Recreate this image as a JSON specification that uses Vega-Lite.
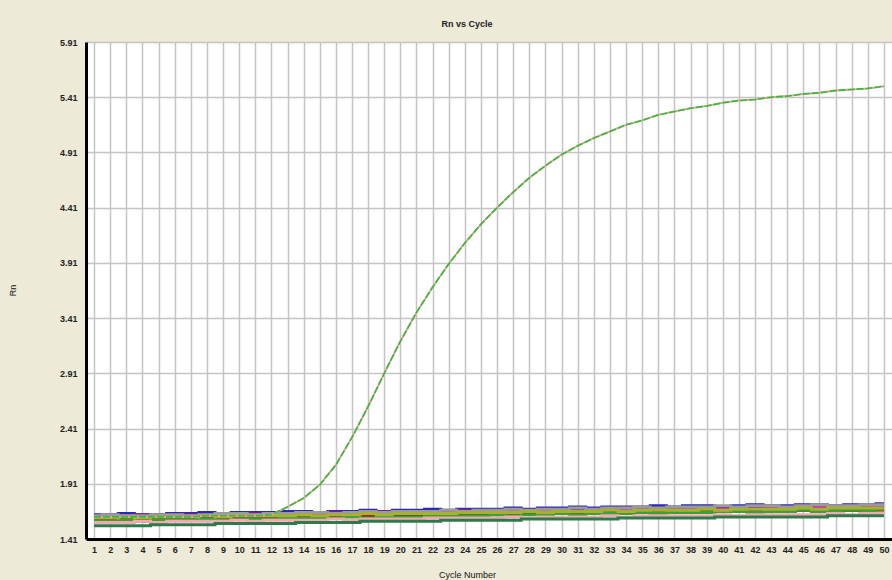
{
  "$schema": "https://vega.github.io/schema/vega-lite/v6.json",
  "width": 806,
  "height": 497,
  "autosize": {"type": "none"},
  "padding": {"left": 86, "top": 42, "right": 0, "bottom": 41},
  "background": "#EEEAD8",
  "config": {
    "view": {"stroke": null, "fill": "white"},
    "font": "Liberation Sans"
  },
  "title": {"text": "Rn vs Cycle", "fontSize": 9, "fontWeight": "bold", "color": "#222", "offset": 9, "dx": -22, "font": "Liberation Sans"},
  "datasets": {
    "amp": [
      {"c":1,"v":1.61},{"c":2,"v":1.61},{"c":3,"v":1.61},{"c":4,"v":1.61},{"c":5,"v":1.61},{"c":6,"v":1.61},{"c":7,"v":1.61},{"c":8,"v":1.62},{"c":9,"v":1.62},{"c":10,"v":1.62},
      {"c":11,"v":1.62},{"c":12,"v":1.63},{"c":13,"v":1.70},{"c":14,"v":1.78},{"c":15,"v":1.90},{"c":16,"v":2.08},{"c":17,"v":2.33},{"c":18,"v":2.61},{"c":19,"v":2.91},{"c":20,"v":3.20},
      {"c":21,"v":3.46},{"c":22,"v":3.69},{"c":23,"v":3.90},{"c":24,"v":4.09},{"c":25,"v":4.26},{"c":26,"v":4.41},{"c":27,"v":4.55},{"c":28,"v":4.68},{"c":29,"v":4.79},{"c":30,"v":4.89},
      {"c":31,"v":4.97},{"c":32,"v":5.04},{"c":33,"v":5.10},{"c":34,"v":5.16},{"c":35,"v":5.20},{"c":36,"v":5.25},{"c":37,"v":5.28},{"c":38,"v":5.31},{"c":39,"v":5.33},{"c":40,"v":5.36},
      {"c":41,"v":5.38},{"c":42,"v":5.39},{"c":43,"v":5.41},{"c":44,"v":5.42},{"c":45,"v":5.44},{"c":46,"v":5.45},{"c":47,"v":5.47},{"c":48,"v":5.48},{"c":49,"v":5.49},{"c":50,"v":5.51}
    ],
    "base": [
      {"s":"A","c":1,"v":1.63},{"s":"A","c":2,"v":1.63},{"s":"A","c":3,"v":1.64},{"s":"A","c":4,"v":1.63},{"s":"A","c":5,"v":1.63},{"s":"A","c":6,"v":1.64},{"s":"A","c":7,"v":1.64},{"s":"A","c":8,"v":1.65},{"s":"A","c":9,"v":1.64},{"s":"A","c":10,"v":1.65},
      {"s":"A","c":11,"v":1.65},{"s":"A","c":12,"v":1.65},{"s":"A","c":13,"v":1.66},{"s":"A","c":14,"v":1.66},{"s":"A","c":15,"v":1.65},{"s":"A","c":16,"v":1.66},{"s":"A","c":17,"v":1.66},{"s":"A","c":18,"v":1.67},{"s":"A","c":19,"v":1.66},{"s":"A","c":20,"v":1.67},
      {"s":"A","c":21,"v":1.67},{"s":"A","c":22,"v":1.68},{"s":"A","c":23,"v":1.67},{"s":"A","c":24,"v":1.68},{"s":"A","c":25,"v":1.68},{"s":"A","c":26,"v":1.68},{"s":"A","c":27,"v":1.69},{"s":"A","c":28,"v":1.68},{"s":"A","c":29,"v":1.69},{"s":"A","c":30,"v":1.69},
      {"s":"A","c":31,"v":1.70},{"s":"A","c":32,"v":1.69},{"s":"A","c":33,"v":1.70},{"s":"A","c":34,"v":1.70},{"s":"A","c":35,"v":1.70},{"s":"A","c":36,"v":1.71},{"s":"A","c":37,"v":1.70},{"s":"A","c":38,"v":1.71},{"s":"A","c":39,"v":1.71},{"s":"A","c":40,"v":1.70},
      {"s":"A","c":41,"v":1.71},{"s":"A","c":42,"v":1.72},{"s":"A","c":43,"v":1.71},{"s":"A","c":44,"v":1.71},{"s":"A","c":45,"v":1.72},{"s":"A","c":46,"v":1.72},{"s":"A","c":47,"v":1.71},{"s":"A","c":48,"v":1.72},{"s":"A","c":49,"v":1.72},{"s":"A","c":50,"v":1.73},

      {"s":"B","c":1,"v":1.62},{"s":"B","c":2,"v":1.62},{"s":"B","c":3,"v":1.62},{"s":"B","c":4,"v":1.63},{"s":"B","c":5,"v":1.62},{"s":"B","c":6,"v":1.63},{"s":"B","c":7,"v":1.63},{"s":"B","c":8,"v":1.63},{"s":"B","c":9,"v":1.64},{"s":"B","c":10,"v":1.63},
      {"s":"B","c":11,"v":1.64},{"s":"B","c":12,"v":1.64},{"s":"B","c":13,"v":1.64},{"s":"B","c":14,"v":1.65},{"s":"B","c":15,"v":1.64},{"s":"B","c":16,"v":1.65},{"s":"B","c":17,"v":1.65},{"s":"B","c":18,"v":1.65},{"s":"B","c":19,"v":1.66},{"s":"B","c":20,"v":1.65},
      {"s":"B","c":21,"v":1.66},{"s":"B","c":22,"v":1.66},{"s":"B","c":23,"v":1.66},{"s":"B","c":24,"v":1.67},{"s":"B","c":25,"v":1.66},{"s":"B","c":26,"v":1.67},{"s":"B","c":27,"v":1.67},{"s":"B","c":28,"v":1.67},{"s":"B","c":29,"v":1.68},{"s":"B","c":30,"v":1.67},
      {"s":"B","c":31,"v":1.68},{"s":"B","c":32,"v":1.68},{"s":"B","c":33,"v":1.68},{"s":"B","c":34,"v":1.69},{"s":"B","c":35,"v":1.68},{"s":"B","c":36,"v":1.69},{"s":"B","c":37,"v":1.69},{"s":"B","c":38,"v":1.69},{"s":"B","c":39,"v":1.69},{"s":"B","c":40,"v":1.70},
      {"s":"B","c":41,"v":1.69},{"s":"B","c":42,"v":1.70},{"s":"B","c":43,"v":1.70},{"s":"B","c":44,"v":1.70},{"s":"B","c":45,"v":1.71},{"s":"B","c":46,"v":1.70},{"s":"B","c":47,"v":1.70},{"s":"B","c":48,"v":1.71},{"s":"B","c":49,"v":1.70},{"s":"B","c":50,"v":1.71},

      {"s":"C","c":1,"v":1.61},{"s":"C","c":2,"v":1.61},{"s":"C","c":3,"v":1.62},{"s":"C","c":4,"v":1.61},{"s":"C","c":5,"v":1.61},{"s":"C","c":6,"v":1.62},{"s":"C","c":7,"v":1.62},{"s":"C","c":8,"v":1.61},{"s":"C","c":9,"v":1.62},{"s":"C","c":10,"v":1.62},
      {"s":"C","c":11,"v":1.63},{"s":"C","c":12,"v":1.62},{"s":"C","c":13,"v":1.63},{"s":"C","c":14,"v":1.63},{"s":"C","c":15,"v":1.63},{"s":"C","c":16,"v":1.64},{"s":"C","c":17,"v":1.63},{"s":"C","c":18,"v":1.64},{"s":"C","c":19,"v":1.64},{"s":"C","c":20,"v":1.64},
      {"s":"C","c":21,"v":1.65},{"s":"C","c":22,"v":1.64},{"s":"C","c":23,"v":1.65},{"s":"C","c":24,"v":1.65},{"s":"C","c":25,"v":1.66},{"s":"C","c":26,"v":1.65},{"s":"C","c":27,"v":1.66},{"s":"C","c":28,"v":1.66},{"s":"C","c":29,"v":1.66},{"s":"C","c":30,"v":1.67},
      {"s":"C","c":31,"v":1.66},{"s":"C","c":32,"v":1.67},{"s":"C","c":33,"v":1.67},{"s":"C","c":34,"v":1.67},{"s":"C","c":35,"v":1.68},{"s":"C","c":36,"v":1.67},{"s":"C","c":37,"v":1.68},{"s":"C","c":38,"v":1.68},{"s":"C","c":39,"v":1.68},{"s":"C","c":40,"v":1.68},
      {"s":"C","c":41,"v":1.69},{"s":"C","c":42,"v":1.68},{"s":"C","c":43,"v":1.69},{"s":"C","c":44,"v":1.69},{"s":"C","c":45,"v":1.69},{"s":"C","c":46,"v":1.70},{"s":"C","c":47,"v":1.69},{"s":"C","c":48,"v":1.69},{"s":"C","c":49,"v":1.70},{"s":"C","c":50,"v":1.70},

      {"s":"D","c":1,"v":1.62},{"s":"D","c":2,"v":1.63},{"s":"D","c":3,"v":1.62},{"s":"D","c":4,"v":1.62},{"s":"D","c":5,"v":1.63},{"s":"D","c":6,"v":1.63},{"s":"D","c":7,"v":1.62},{"s":"D","c":8,"v":1.63},{"s":"D","c":9,"v":1.64},{"s":"D","c":10,"v":1.64},
      {"s":"D","c":11,"v":1.63},{"s":"D","c":12,"v":1.64},{"s":"D","c":13,"v":1.64},{"s":"D","c":14,"v":1.65},{"s":"D","c":15,"v":1.65},{"s":"D","c":16,"v":1.64},{"s":"D","c":17,"v":1.65},{"s":"D","c":18,"v":1.66},{"s":"D","c":19,"v":1.65},{"s":"D","c":20,"v":1.66},
      {"s":"D","c":21,"v":1.66},{"s":"D","c":22,"v":1.66},{"s":"D","c":23,"v":1.67},{"s":"D","c":24,"v":1.66},{"s":"D","c":25,"v":1.67},{"s":"D","c":26,"v":1.67},{"s":"D","c":27,"v":1.68},{"s":"D","c":28,"v":1.67},{"s":"D","c":29,"v":1.68},{"s":"D","c":30,"v":1.68},
      {"s":"D","c":31,"v":1.69},{"s":"D","c":32,"v":1.68},{"s":"D","c":33,"v":1.69},{"s":"D","c":34,"v":1.69},{"s":"D","c":35,"v":1.70},{"s":"D","c":36,"v":1.69},{"s":"D","c":37,"v":1.70},{"s":"D","c":38,"v":1.70},{"s":"D","c":39,"v":1.70},{"s":"D","c":40,"v":1.71},
      {"s":"D","c":41,"v":1.70},{"s":"D","c":42,"v":1.71},{"s":"D","c":43,"v":1.71},{"s":"D","c":44,"v":1.70},{"s":"D","c":45,"v":1.71},{"s":"D","c":46,"v":1.72},{"s":"D","c":47,"v":1.71},{"s":"D","c":48,"v":1.71},{"s":"D","c":49,"v":1.72},{"s":"D","c":50,"v":1.72},

      {"s":"E","c":1,"v":1.59},{"s":"E","c":2,"v":1.59},{"s":"E","c":3,"v":1.59},{"s":"E","c":4,"v":1.60},{"s":"E","c":5,"v":1.59},{"s":"E","c":6,"v":1.60},{"s":"E","c":7,"v":1.60},{"s":"E","c":8,"v":1.60},{"s":"E","c":9,"v":1.60},{"s":"E","c":10,"v":1.61},
      {"s":"E","c":11,"v":1.60},{"s":"E","c":12,"v":1.61},{"s":"E","c":13,"v":1.61},{"s":"E","c":14,"v":1.61},{"s":"E","c":15,"v":1.62},{"s":"E","c":16,"v":1.61},{"s":"E","c":17,"v":1.62},{"s":"E","c":18,"v":1.62},{"s":"E","c":19,"v":1.62},{"s":"E","c":20,"v":1.62},
      {"s":"E","c":21,"v":1.63},{"s":"E","c":22,"v":1.62},{"s":"E","c":23,"v":1.63},{"s":"E","c":24,"v":1.63},{"s":"E","c":25,"v":1.63},{"s":"E","c":26,"v":1.64},{"s":"E","c":27,"v":1.63},{"s":"E","c":28,"v":1.64},{"s":"E","c":29,"v":1.64},{"s":"E","c":30,"v":1.64},
      {"s":"E","c":31,"v":1.64},{"s":"E","c":32,"v":1.65},{"s":"E","c":33,"v":1.64},{"s":"E","c":34,"v":1.65},{"s":"E","c":35,"v":1.65},{"s":"E","c":36,"v":1.65},{"s":"E","c":37,"v":1.65},{"s":"E","c":38,"v":1.66},{"s":"E","c":39,"v":1.65},{"s":"E","c":40,"v":1.66},
      {"s":"E","c":41,"v":1.66},{"s":"E","c":42,"v":1.66},{"s":"E","c":43,"v":1.66},{"s":"E","c":44,"v":1.66},{"s":"E","c":45,"v":1.67},{"s":"E","c":46,"v":1.66},{"s":"E","c":47,"v":1.67},{"s":"E","c":48,"v":1.67},{"s":"E","c":49,"v":1.67},{"s":"E","c":50,"v":1.67},

      {"s":"F","c":1,"v":1.58},{"s":"F","c":2,"v":1.58},{"s":"F","c":3,"v":1.59},{"s":"F","c":4,"v":1.58},{"s":"F","c":5,"v":1.59},{"s":"F","c":6,"v":1.59},{"s":"F","c":7,"v":1.59},{"s":"F","c":8,"v":1.60},{"s":"F","c":9,"v":1.59},{"s":"F","c":10,"v":1.60},
      {"s":"F","c":11,"v":1.60},{"s":"F","c":12,"v":1.60},{"s":"F","c":13,"v":1.61},{"s":"F","c":14,"v":1.60},{"s":"F","c":15,"v":1.61},{"s":"F","c":16,"v":1.61},{"s":"F","c":17,"v":1.62},{"s":"F","c":18,"v":1.61},{"s":"F","c":19,"v":1.62},{"s":"F","c":20,"v":1.62},
      {"s":"F","c":21,"v":1.62},{"s":"F","c":22,"v":1.63},{"s":"F","c":23,"v":1.62},{"s":"F","c":24,"v":1.63},{"s":"F","c":25,"v":1.63},{"s":"F","c":26,"v":1.63},{"s":"F","c":27,"v":1.64},{"s":"F","c":28,"v":1.64},{"s":"F","c":29,"v":1.63},{"s":"F","c":30,"v":1.64},
      {"s":"F","c":31,"v":1.64},{"s":"F","c":32,"v":1.65},{"s":"F","c":33,"v":1.65},{"s":"F","c":34,"v":1.64},{"s":"F","c":35,"v":1.65},{"s":"F","c":36,"v":1.66},{"s":"F","c":37,"v":1.65},{"s":"F","c":38,"v":1.66},{"s":"F","c":39,"v":1.66},{"s":"F","c":40,"v":1.66},
      {"s":"F","c":41,"v":1.66},{"s":"F","c":42,"v":1.67},{"s":"F","c":43,"v":1.66},{"s":"F","c":44,"v":1.67},{"s":"F","c":45,"v":1.67},{"s":"F","c":46,"v":1.67},{"s":"F","c":47,"v":1.68},{"s":"F","c":48,"v":1.67},{"s":"F","c":49,"v":1.68},{"s":"F","c":50,"v":1.68},

      {"s":"G","c":1,"v":1.57},{"s":"G","c":2,"v":1.57},{"s":"G","c":3,"v":1.58},{"s":"G","c":4,"v":1.57},{"s":"G","c":5,"v":1.58},{"s":"G","c":6,"v":1.58},{"s":"G","c":7,"v":1.58},{"s":"G","c":8,"v":1.59},{"s":"G","c":9,"v":1.58},{"s":"G","c":10,"v":1.59},
      {"s":"G","c":11,"v":1.59},{"s":"G","c":12,"v":1.59},{"s":"G","c":13,"v":1.60},{"s":"G","c":14,"v":1.60},{"s":"G","c":15,"v":1.60},{"s":"G","c":16,"v":1.60},{"s":"G","c":17,"v":1.61},{"s":"G","c":18,"v":1.60},{"s":"G","c":19,"v":1.61},{"s":"G","c":20,"v":1.61},
      {"s":"G","c":21,"v":1.61},{"s":"G","c":22,"v":1.62},{"s":"G","c":23,"v":1.62},{"s":"G","c":24,"v":1.62},{"s":"G","c":25,"v":1.62},{"s":"G","c":26,"v":1.63},{"s":"G","c":27,"v":1.62},{"s":"G","c":28,"v":1.63},{"s":"G","c":29,"v":1.63},{"s":"G","c":30,"v":1.64},
      {"s":"G","c":31,"v":1.63},{"s":"G","c":32,"v":1.64},{"s":"G","c":33,"v":1.64},{"s":"G","c":34,"v":1.64},{"s":"G","c":35,"v":1.65},{"s":"G","c":36,"v":1.64},{"s":"G","c":37,"v":1.65},{"s":"G","c":38,"v":1.65},{"s":"G","c":39,"v":1.65},{"s":"G","c":40,"v":1.66},
      {"s":"G","c":41,"v":1.66},{"s":"G","c":42,"v":1.65},{"s":"G","c":43,"v":1.66},{"s":"G","c":44,"v":1.66},{"s":"G","c":45,"v":1.67},{"s":"G","c":46,"v":1.66},{"s":"G","c":47,"v":1.67},{"s":"G","c":48,"v":1.67},{"s":"G","c":49,"v":1.67},{"s":"G","c":50,"v":1.68},

      {"s":"H","c":1,"v":1.56},{"s":"H","c":2,"v":1.56},{"s":"H","c":3,"v":1.56},{"s":"H","c":4,"v":1.57},{"s":"H","c":5,"v":1.56},{"s":"H","c":6,"v":1.57},{"s":"H","c":7,"v":1.57},{"s":"H","c":8,"v":1.57},{"s":"H","c":9,"v":1.57},{"s":"H","c":10,"v":1.58},
      {"s":"H","c":11,"v":1.57},{"s":"H","c":12,"v":1.58},{"s":"H","c":13,"v":1.58},{"s":"H","c":14,"v":1.58},{"s":"H","c":15,"v":1.58},{"s":"H","c":16,"v":1.59},{"s":"H","c":17,"v":1.58},{"s":"H","c":18,"v":1.59},{"s":"H","c":19,"v":1.59},{"s":"H","c":20,"v":1.59},
      {"s":"H","c":21,"v":1.59},{"s":"H","c":22,"v":1.60},{"s":"H","c":23,"v":1.60},{"s":"H","c":24,"v":1.60},{"s":"H","c":25,"v":1.60},{"s":"H","c":26,"v":1.60},{"s":"H","c":27,"v":1.61},{"s":"H","c":28,"v":1.60},{"s":"H","c":29,"v":1.61},{"s":"H","c":30,"v":1.61},
      {"s":"H","c":31,"v":1.61},{"s":"H","c":32,"v":1.61},{"s":"H","c":33,"v":1.62},{"s":"H","c":34,"v":1.61},{"s":"H","c":35,"v":1.62},{"s":"H","c":36,"v":1.62},{"s":"H","c":37,"v":1.62},{"s":"H","c":38,"v":1.62},{"s":"H","c":39,"v":1.62},{"s":"H","c":40,"v":1.63},
      {"s":"H","c":41,"v":1.62},{"s":"H","c":42,"v":1.63},{"s":"H","c":43,"v":1.63},{"s":"H","c":44,"v":1.63},{"s":"H","c":45,"v":1.63},{"s":"H","c":46,"v":1.63},{"s":"H","c":47,"v":1.64},{"s":"H","c":48,"v":1.63},{"s":"H","c":49,"v":1.64},{"s":"H","c":50,"v":1.64},

      {"s":"I","c":1,"v":1.53},{"s":"I","c":2,"v":1.53},{"s":"I","c":3,"v":1.53},{"s":"I","c":4,"v":1.53},{"s":"I","c":5,"v":1.54},{"s":"I","c":6,"v":1.54},{"s":"I","c":7,"v":1.54},{"s":"I","c":8,"v":1.54},{"s":"I","c":9,"v":1.55},{"s":"I","c":10,"v":1.55},
      {"s":"I","c":11,"v":1.55},{"s":"I","c":12,"v":1.55},{"s":"I","c":13,"v":1.55},{"s":"I","c":14,"v":1.56},{"s":"I","c":15,"v":1.56},{"s":"I","c":16,"v":1.56},{"s":"I","c":17,"v":1.56},{"s":"I","c":18,"v":1.57},{"s":"I","c":19,"v":1.57},{"s":"I","c":20,"v":1.57},
      {"s":"I","c":21,"v":1.57},{"s":"I","c":22,"v":1.57},{"s":"I","c":23,"v":1.58},{"s":"I","c":24,"v":1.58},{"s":"I","c":25,"v":1.58},{"s":"I","c":26,"v":1.58},{"s":"I","c":27,"v":1.58},{"s":"I","c":28,"v":1.59},{"s":"I","c":29,"v":1.59},{"s":"I","c":30,"v":1.59},
      {"s":"I","c":31,"v":1.59},{"s":"I","c":32,"v":1.59},{"s":"I","c":33,"v":1.59},{"s":"I","c":34,"v":1.60},{"s":"I","c":35,"v":1.60},{"s":"I","c":36,"v":1.60},{"s":"I","c":37,"v":1.60},{"s":"I","c":38,"v":1.60},{"s":"I","c":39,"v":1.60},{"s":"I","c":40,"v":1.61},
      {"s":"I","c":41,"v":1.61},{"s":"I","c":42,"v":1.61},{"s":"I","c":43,"v":1.61},{"s":"I","c":44,"v":1.61},{"s":"I","c":45,"v":1.61},{"s":"I","c":46,"v":1.61},{"s":"I","c":47,"v":1.62},{"s":"I","c":48,"v":1.62},{"s":"I","c":49,"v":1.62},{"s":"I","c":50,"v":1.62},

      {"s":"J","c":1,"v":1.60},{"s":"J","c":2,"v":1.60},{"s":"J","c":3,"v":1.61},{"s":"J","c":4,"v":1.60},{"s":"J","c":5,"v":1.61},{"s":"J","c":6,"v":1.61},{"s":"J","c":7,"v":1.61},{"s":"J","c":8,"v":1.62},{"s":"J","c":9,"v":1.61},{"s":"J","c":10,"v":1.62},
      {"s":"J","c":11,"v":1.62},{"s":"J","c":12,"v":1.62},{"s":"J","c":13,"v":1.62},{"s":"J","c":14,"v":1.63},{"s":"J","c":15,"v":1.62},{"s":"J","c":16,"v":1.63},{"s":"J","c":17,"v":1.63},{"s":"J","c":18,"v":1.64},{"s":"J","c":19,"v":1.63},{"s":"J","c":20,"v":1.64},
      {"s":"J","c":21,"v":1.64},{"s":"J","c":22,"v":1.64},{"s":"J","c":23,"v":1.64},{"s":"J","c":24,"v":1.65},{"s":"J","c":25,"v":1.65},{"s":"J","c":26,"v":1.65},{"s":"J","c":27,"v":1.65},{"s":"J","c":28,"v":1.66},{"s":"J","c":29,"v":1.65},{"s":"J","c":30,"v":1.66},
      {"s":"J","c":31,"v":1.66},{"s":"J","c":32,"v":1.66},{"s":"J","c":33,"v":1.67},{"s":"J","c":34,"v":1.66},{"s":"J","c":35,"v":1.67},{"s":"J","c":36,"v":1.67},{"s":"J","c":37,"v":1.67},{"s":"J","c":38,"v":1.67},{"s":"J","c":39,"v":1.68},{"s":"J","c":40,"v":1.67},
      {"s":"J","c":41,"v":1.68},{"s":"J","c":42,"v":1.68},{"s":"J","c":43,"v":1.68},{"s":"J","c":44,"v":1.68},{"s":"J","c":45,"v":1.69},{"s":"J","c":46,"v":1.68},{"s":"J","c":47,"v":1.69},{"s":"J","c":48,"v":1.69},{"s":"J","c":49,"v":1.69},{"s":"J","c":50,"v":1.69}
    ]
  },
  "encoding": {
    "x": {
      "field": "c", "type": "quantitative",
      "scale": {"domain": [0.5, 50.5], "nice": false, "zero": false},
      "axis": {
        "values": [1,2,3,4,5,6,7,8,9,10,11,12,13,14,15,16,17,18,19,20,21,22,23,24,25,26,27,28,29,30,31,32,33,34,35,36,37,38,39,40,41,42,43,44,45,46,47,48,49,50],
        "title": "Cycle Number", "titleFont": "Liberation Sans", "titleFontSize": 9, "titleFontWeight": "normal", "titleColor": "#111",
        "titleX": 381, "titleY": 31, "titleBaseline": "top",
        "labelFont": "Liberation Sans", "labelFontSize": 9, "labelFontWeight": "bold", "labelColor": "#222", "labelPadding": 6, "labelFlush": false, "labelOverlap": false,
        "ticks": false, "domainColor": "#000", "domainWidth": 3,
        "grid": true, "gridColor": "#c4c4c4", "gridWidth": 1.5
      }
    },
    "y": {
      "field": "v", "type": "quantitative",
      "scale": {"domain": [1.41, 5.91], "nice": false, "zero": false},
      "axis": {
        "values": [1.41, 1.91, 2.41, 2.91, 3.41, 3.91, 4.41, 4.91, 5.41, 5.91],
        "format": ".2f",
        "title": "Rn", "titleFont": "Liberation Sans", "titleFontSize": 9, "titleFontWeight": "normal", "titleColor": "#111",
        "titleX": -74, "titleY": 248, "titleAngle": -90, "titleAlign": "center", "titleBaseline": "middle",
        "labelFont": "Liberation Sans", "labelFontSize": 9, "labelFontWeight": "bold", "labelColor": "#222", "labelPadding": 9, "labelFlush": false,
        "ticks": false, "domainColor": "#000", "domainWidth": 3,
        "grid": true, "gridColor": "#c4c4c4", "gridWidth": 1.5
      }
    }
  },
  "layer": [
    {
      "data": {"name": "base"},
      "mark": {"type": "line", "interpolate": "step", "strokeWidth": 3, "clip": true},
      "encoding": {
        "color": {
          "field": "s", "type": "nominal", "legend": null,
          "scale": {
            "domain": ["A","B","C","D","E","F","G","H","I","J"],
            "range": ["#2a2ab8","#7a1f9a","#d02ca0","#9a9a9a","#d83a20","#7a1818","#3aa03a","#f2a8b0","#2e7a4a","#a8b030"]
          }
        }
      }
    },
    {
      "data": {"name": "amp"},
      "mark": {"type": "line", "color": "#e8a0a8", "strokeWidth": 2},
      "encoding": {}
    },
    {
      "data": {"name": "amp"},
      "mark": {"type": "line", "color": "#30c030", "strokeWidth": 1.6, "strokeDash": [7, 2]},
      "encoding": {}
    }
  ]
}
